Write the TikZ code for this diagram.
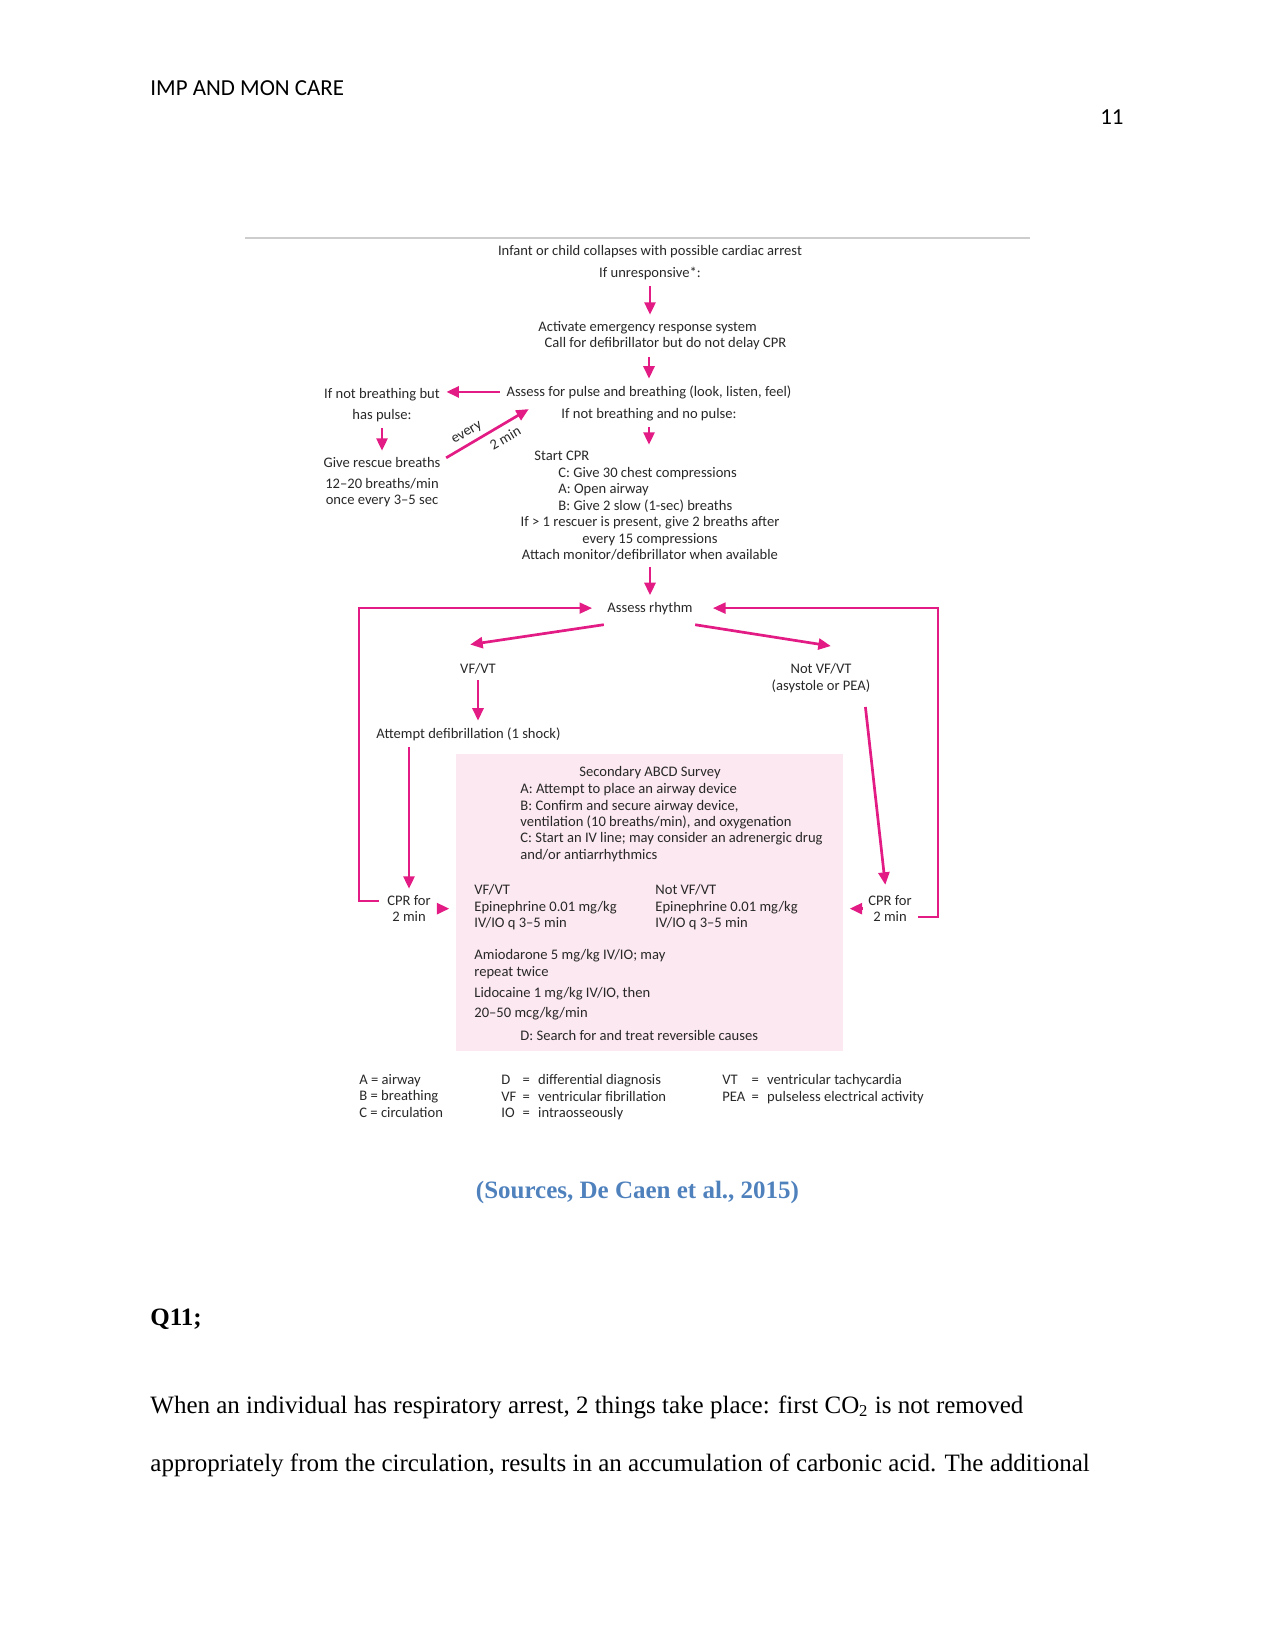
\documentclass[tikz,border=0pt]{standalone}
\usepackage{fontspec}
\setmainfont{Liberation Serif}
\newfontfamily\headfont{Carlito}
\newfontfamily\diagfont{Carlito}
\usetikzlibrary{arrows.meta, positioning, calc}
\definecolor{cprpink}{RGB}{226,28,132}
\definecolor{surveypink}{RGB}{252,232,240}
\definecolor{captionblue}{RGB}{79,129,189}
\definecolor{rulegray}{RGB}{205,205,205}
\definecolor{diagtext}{RGB}{40,40,40}

\begin{document}
\begin{tikzpicture}[
    x=0.48pt, y=-0.48pt,
    lbl/.style={inner sep=0pt, align=center, text=diagtext, font=\diagfont\fontsize{7}{7.9}\selectfont},
    lblleft/.style={lbl, align=left},
    flow/.style={-{Triangle[length=6pt,width=5.3pt]}, line width=1.3pt, draw=cprpink, shorten <=3pt, shorten >=3pt},
    loopline/.style={-{Triangle[length=6pt,width=5.3pt]}, line width=0.9pt, draw=cprpink},
    body/.style={inner sep=0pt, font=\fontsize{12}{14}\selectfont}
]
\useasboundingbox (0,0) rectangle (1275,1651);

% page header
\node[inner sep=0pt, anchor=base west, font=\headfont\fontsize{11}{13}\selectfont] (runhead) at (150,96) {IMP AND MON CARE};
\node[inner sep=0pt, anchor=base east, font=\headfont\fontsize{11}{13}\selectfont] (pagenum) at (1124,125) {11};

% figure
\draw[rulegray, line width=0.8pt] (245,238) -- (1030,238);
\node[fill=surveypink, inner sep=0pt, minimum width=185.8pt, minimum height=142.6pt] (survey) at (649.5,902.5) {};

\node[lbl, anchor=base] (collapse) at (650,256) {Infant or child collapses with possible cardiac arrest};
\node[lbl, anchor=base] (unresp) at (650,277) {If unresponsive*:};
\node[lblleft, anchor=north west] (activate) at (538,321) {Activate emergency response system\\\hspace*{3pt}Call for defibrillator but do not delay CPR};
\node[lbl, anchor=base] (assess) at (649,396) {Assess for pulse and breathing (look, listen, feel)};
\node[lbl, anchor=base] (nobreath) at (649,418) {If not breathing and no pulse:};
\node[lbl, anchor=north] (notbr) at (382,388) {If not breathing but\\[2pt]has pulse:};
\node[lbl, anchor=north] (rescue) at (382,457) {Give rescue breaths\\[2pt]12–20 breaths/min\\once every 3–5 sec};
\node[lblleft, anchor=north west] (cpr) at (534,451) {Start CPR\\\hspace*{11.5pt}C: Give 30 chest compressions\\\hspace*{11.5pt}A: Open airway\\\hspace*{11.5pt}B: Give 2 slow (1-sec) breaths};
\node[lbl, anchor=north] (cprmore) at (650,516) {If > 1 rescuer is present, give 2 breaths after\\every 15 compressions\\Attach monitor/defibrillator when available};
\node[lbl, anchor=base] (rhythm) at (650,612) {Assess rhythm};
\node[lbl, anchor=base] (vfvt) at (478,673) {VF/VT};
\node[lbl, anchor=north] (notvf) at (821,663) {Not VF/VT\\(asystole or PEA)};
\node[lbl, anchor=base west] (defib) at (376,738) {Attempt defibrillation (1 shock)};
\node[lbl, anchor=north] (cprL) at (409,895) {CPR for\\2 min};
\node[lbl, anchor=north] (cprR) at (890,895) {CPR for\\2 min};

% secondary survey
\node[lbl, anchor=base] (surveyhead) at (650,776) {Secondary ABCD Survey};
\node[lblleft, anchor=north west] (surveyabc) at (520,783) {A: Attempt to place an airway device\\B: Confirm and secure airway device,\\ventilation (10 breaths/min), and oxygenation\\C: Start an IV line; may consider an adrenergic drug\\and/or antiarrhythmics};
\node[lblleft, anchor=north west] (drugvf) at (474,884) {VF/VT\\Epinephrine 0.01 mg/kg\\IV/IO q 3–5 min};
\node[lblleft, anchor=north west] (drugnotvf) at (655,884) {Not VF/VT\\Epinephrine 0.01 mg/kg\\IV/IO q 3–5 min};
\node[lblleft, anchor=north west] (amio) at (474,949) {Amiodarone 5 mg/kg IV/IO; may\\repeat twice};
\node[lblleft, anchor=north west] (lido) at (474,987) {Lidocaine 1 mg/kg IV/IO, then\\[1.5pt]20–50 mcg/kg/min};
\node[lbl, anchor=base west] (dsearch) at (520,1040) {D: Search for and treat reversible causes};

% legend
\node[lblleft, anchor=north west] (legabc) at (359,1074) {A = airway\\B = breathing\\C = circulation};
\node[lbl, anchor=north west] (legdx) at (501,1073) {\begin{tabular}{@{}l@{\hspace{3pt}}l@{\hspace{4pt}}l@{}}D & = & differential diagnosis\\VF & = & ventricular fibrillation\\IO & = & intraosseously\end{tabular}};
\node[lbl, anchor=north west] (legvt) at (722,1073) {\begin{tabular}{@{}l@{\hspace{3pt}}l@{\hspace{4pt}}l@{}}VT & = & ventricular tachycardia\\PEA & = & pulseless electrical activity\end{tabular}};

% arrows
\draw[flow] (unresp) -- (unresp |- activate.north);
\draw[flow] (activate.south -| assess) -- (assess);
\draw[flow] (assess.west) -- (assess.west -| notbr.east);
\draw[flow] (notbr) -- (rescue);
\draw[flow] ($(rescue.north east)+(0,4)$) -- ($(assess.south west)+(28,7)$)
    node[lbl, pos=0.34, sloped, above=2pt] (every) {every}
    node[lbl, pos=0.62, sloped, below=3pt] (twomin) {2 min};
\draw[flow] (nobreath) -- (nobreath |- cpr.north);
\draw[flow] (cprmore) -- (rhythm);
\draw[flow] ($(rhythm.south west)+(3,9)$) -- ($(vfvt.north)+(-14,-17)$);
\draw[flow] ($(rhythm.south east)+(-4,9)$) -- ($(notvf.north)+(16,-16)$);
\draw[flow] (vfvt) -- (vfvt |- defib.north);
\draw[flow] (cprL |- defib.south) -- (cprL);
\draw[flow] ($(notvf.south east)+(-6,8)$) -- ($(cprR.north)+(-4,-4)$);
\draw[flow] (cprL) -- (cprL -| survey.west);
\draw[flow] (cprR) -- (cprR -| survey.east);
\draw[loopline] ($(cprL.west)+(-8,-8)$) -- ++(-20,0) |- ($(rhythm.west)+(-15,0)$);
\draw[loopline] ($(cprR.east)+(6,8)$) -- ++(20,0) |- ($(rhythm.east)+(20,0)$);

% text below the figure
\node[body, anchor=base] (source) at (637.5,1198) {\textbf{\color{captionblue}(Sources, De Caen et al., 2015)}};
\node[body, anchor=base west] (qnum) at (150,1325) {\textbf{Q11;}};
\node[body, anchor=base west] (para1) at (150,1413) {When an individual has respiratory arrest, 2 things take place: first CO\textsubscript{2} is not removed};
\node[body, anchor=base west] (para2) at (150,1471) {appropriately from the circulation, results in an accumulation of carbonic acid. The additional};
\end{tikzpicture}
\end{document}
